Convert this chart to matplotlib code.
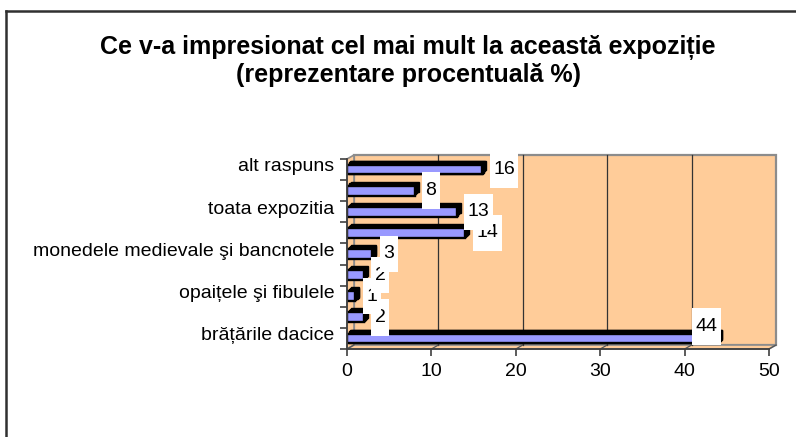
import matplotlib
matplotlib.use("Agg")
import matplotlib.pyplot as plt
import matplotlib.transforms as mtransforms
from matplotlib.patches import Polygon, Rectangle
from matplotlib.lines import Line2D
from matplotlib.path import Path

plt.rcParams['font.family'] = ['Liberation Sans', 'DejaVu Sans']

title = "Ce v-a impresionat cel mai mult la această expoziție\n(reprezentare procentuală %)"
categories = ["brățările dacice", "", "opaițele şi fibulele", "", "monedele medievale şi bancnotele",
              "", "toata expozitia", "", "alt raspuns"]
values = [44, 2, 1, 2, 3, 14, 13, 8, 16]
xticks = [0, 10, 20, 30, 40, 50]


class TallBox:
    """Label box with small horizontal and large vertical padding."""
    def __init__(self, padx=0.18, pady=0.5):
        self.padx = padx
        self.pady = pady

    def __call__(self, x0, y0, width, height, mutation_size):
        px = self.padx * mutation_size
        py = self.pady * mutation_size
        x0, y0 = x0 - px, y0 - py
        x1, y1 = x0 + width + 2 * px, y0 + height + 2 * py
        return Path([(x0, y0), (x1, y0), (x1, y1), (x0, y1), (x0, y0)], closed=True)


W, H = 796, 437
fig = plt.figure(figsize=(W / 100, H / 100), dpi=100)
fig.patch.set_facecolor('white')

# outer chart frame (top and left visible)
fx0, fy0 = 6 / W, 1 - 11 / H
fig.add_artist(Line2D([fx0, 1.0], [fy0, fy0], color='#303030', lw=1.8, transform=fig.transFigure))
fig.add_artist(Line2D([fx0, fx0], [fy0, 0.0], color='#303030', lw=1.8, transform=fig.transFigure))

fig.text(408 / W, 1 - 61 / H, title, ha='center', va='center', fontsize=18, fontweight='bold',
         linespacing=1.15)

L, R, T, B = 347, 769, 159, 349
ax = fig.add_axes([L / W, 1 - B / H, (R - L) / W, (B - T) / H])
ax.set_xlim(0, 50)
n = len(values)
ax.set_ylim(-0.5, n - 0.5)
ax.patch.set_visible(False)

dxp, dyp = 7, 4
dx = dxp / (R - L)
dy = dyp / (B - T)
wall = '#FFCC99'
edge = '#8C8C8C'
ta = ax.transAxes
# back wall
ax.add_patch(Rectangle((dx, dy), 1, 1, transform=ta, facecolor=wall, edgecolor=edge, lw=1.6,
                       clip_on=False, zorder=0))
# left side wall
ax.add_patch(Polygon([(0, 0), (dx, dy), (dx, 1 + dy), (0, 1)], closed=True, transform=ta,
                     facecolor=wall, edgecolor=edge, lw=1.2, clip_on=False, zorder=0.5))
# floor
ax.add_patch(Polygon([(0, 0), (1, 0), (1 + dx, dy), (dx, dy)], closed=True, transform=ta,
                     facecolor=wall, edgecolor=edge, lw=1.2, clip_on=False, zorder=0.5))
# gridlines on back wall and floor
for xv in xticks[1:-1]:
    xa = (xv - xticks[0]) / (xticks[-1] - xticks[0])
    ax.add_line(Line2D([xa + dx, xa + dx], [dy, 1 + dy], transform=ta, color='#333333', lw=0.9,
                       clip_on=False, zorder=0.7))
for xv in xticks:
    xa = (xv - xticks[0]) / (xticks[-1] - xticks[0])
    ax.add_line(Line2D([xa, xa + dx], [0, dy], transform=ta, color='#555555', lw=0.9,
                       clip_on=False, zorder=0.7))

# bars with 3D extrusion
ypos = list(range(n))
bh = 0.46
for k in range(1, 6):
    off = mtransforms.offset_copy(ax.transData, fig=fig, x=k * 0.8, y=k * 0.8, units='dots')
    ax.barh(ypos, values, height=bh, color='black', edgecolor='black', lw=1.0,
            transform=off, zorder=2)
ax.barh(ypos, values, height=bh, color='#9999FF', edgecolor='black', lw=1.7, zorder=3)

# data labels
vmax = max(values)
for i, v in enumerate(values):
    if v == vmax:
        t = ax.annotate(str(v), xy=(v, i), xytext=(-1, 12), textcoords='offset pixels',
                        ha='right', va='center', fontsize=14, zorder=4 + i,
                        bbox=dict(facecolor='white', edgecolor='none'))
    else:
        t = ax.annotate(str(v), xy=(v, i), xytext=(11, 0), textcoords='offset pixels',
                        ha='left', va='center', fontsize=14, zorder=4 + i,
                        bbox=dict(facecolor='white', edgecolor='none'))
    t.get_bbox_patch().set_boxstyle(TallBox())

# axes / ticks
for s in ['top', 'right']:
    ax.spines[s].set_visible(False)
for s in ['left', 'bottom']:
    ax.spines[s].set_color('#404040')
    ax.spines[s].set_linewidth(1.3)
    ax.spines[s].set_zorder(30)

ax.set_xticks(xticks)
ax.set_xticklabels([str(x) for x in xticks], fontsize=14)
ax.tick_params(axis='x', length=5, width=1.2, color='#404040', pad=5)

ax.set_yticks([i - 0.5 for i in range(n + 1)])
ax.set_yticklabels([])
ax.tick_params(axis='y', which='major', length=5, width=1.2, color='#404040')
ax.set_yticks(ypos, minor=True)
ax.set_yticklabels(categories, minor=True, fontsize=14, va='center')
ax.tick_params(axis='y', which='minor', length=0, pad=9)
for lbl in ax.get_yticklabels(minor=True):
    lbl.set_transform(lbl.get_transform() + mtransforms.ScaledTranslation(0, 2 / 72, fig.dpi_scale_trans))

fig.savefig('out.png', dpi=100)
